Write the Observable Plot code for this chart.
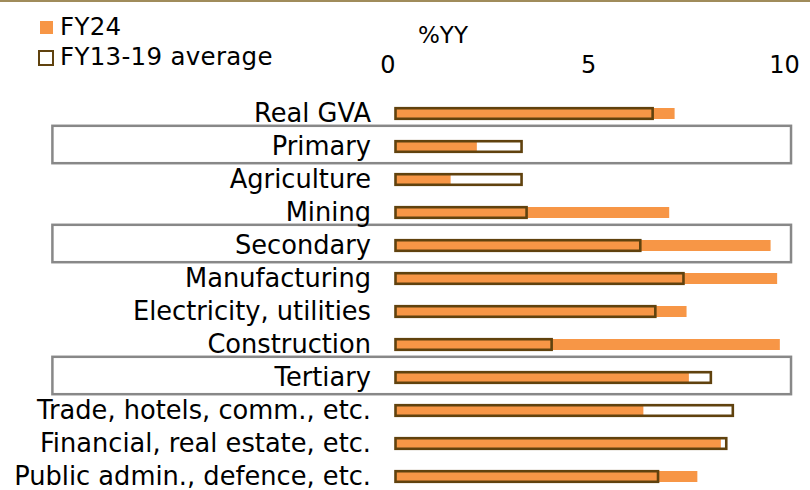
<!DOCTYPE html>
<html>
<head>
<meta charset="utf-8">
<script src="https://cdn.jsdelivr.net/npm/d3@7"></script>
<script src="https://cdn.jsdelivr.net/npm/@observablehq/plot@0.6"></script>
<style>
  html, body { margin: 0; padding: 0; background: #fff; }
  #wrap { position: relative; width: 810px; height: 490px; overflow: hidden; font-family: "DejaVu Sans", sans-serif; }
  #topline { position: absolute; left: 0; top: 0; width: 810px; height: 2px; background: #a08c5b; }
  .leg { position: absolute; font-size: 24.5px; letter-spacing: 0.3px; color: #000; line-height: 1; white-space: nowrap; }
  .sw { position: absolute; box-sizing: border-box; }
  #unit { position: absolute; left: 418px; top: 24px; font-size: 23px; line-height: 1; }
</style>
</head>
<body>
<div id="wrap">
  <div id="chart"></div>
  <div id="topline"></div>
  <div class="sw" style="left:40px;top:21px;width:13px;height:13px;background:#f79646;"></div>
  <div class="leg" style="left:60px;top:15px;">FY24</div>
  <div class="sw" style="left:38px;top:50px;width:16px;height:16px;border:2.5px solid #60420e;background:#fff;"></div>
  <div class="leg" style="left:60px;top:45px;">FY13-19 average</div>
  <div id="unit">%YY</div>
</div>
<script>
const categories = [
  "Real GVA", "Primary", "Agriculture", "Mining", "Secondary", "Manufacturing",
  "Electricity, utilities", "Construction", "Tertiary", "Trade, hotels, comm., etc.",
  "Financial, real estate, etc.", "Public admin., defence, etc."
];
const fy24 = [7.24, 2.11, 1.43, 7.1, 9.73, 9.9, 7.55, 9.97, 7.61, 6.43, 8.44, 7.83];
const avg1319 = [6.67, 3.27, 3.27, 3.4, 6.35, 7.47, 6.74, 4.05, 8.18, 8.75, 8.58, 6.81];
const boxed = ["Primary", "Secondary", "Tertiary"];

const rows = categories.map((c, i) => ({cat: c, fy24: fy24[i], avg: avg1319[i]}));

const axisOpts = {anchor: "top", tickSize: 0, tickPadding: 24, fontSize: 24, fill: "#000", label: null};

const chart = Plot.plot({
  width: 810,
  height: 490,
  marginTop: 96,
  marginLeft: 395.5,
  marginRight: 29,
  marginBottom: 0,
  style: {fontFamily: "DejaVu Sans, sans-serif", fontSize: "24px", color: "#000", background: "transparent"},
  x: {domain: [0, 10], range: [395.5, 781]},
  y: {domain: categories, range: [96, 494], padding: 0},
  marks: [
    Plot.ruleX([0], {stroke: "#d9d9d9", strokeWidth: 1.5, y1: categories[0], y2: categories[categories.length - 1], insetTop: -18, insetBottom: -18}),
    Plot.barX(boxed, {y: d => d, x1: -8.9, x2: 10.26, fill: "none", stroke: "#888888", strokeWidth: 2.5, insetTop: -4.2, insetBottom: -0.2}),
    Plot.barX(rows, {y: "cat", x: "fy24", fill: "#f79646", insetTop: 11, insetBottom: 11}),
    Plot.barX(rows, {y: "cat", x: "avg", fill: "none", stroke: "#60420e", strokeWidth: 2.6, insetTop: 11.2, insetBottom: 11.2}),
    Plot.axisY({tickSize: 0, tickPadding: 25, fontSize: 25.7, fill: "#000", label: null}),
    Plot.axisX({...axisOpts, ticks: [0], dx: -8}),
    Plot.axisX({...axisOpts, ticks: [5]}),
    Plot.axisX({...axisOpts, ticks: [10], dx: 3})
  ]
});
document.getElementById("chart").appendChild(chart);
</script>
</body>
</html>
